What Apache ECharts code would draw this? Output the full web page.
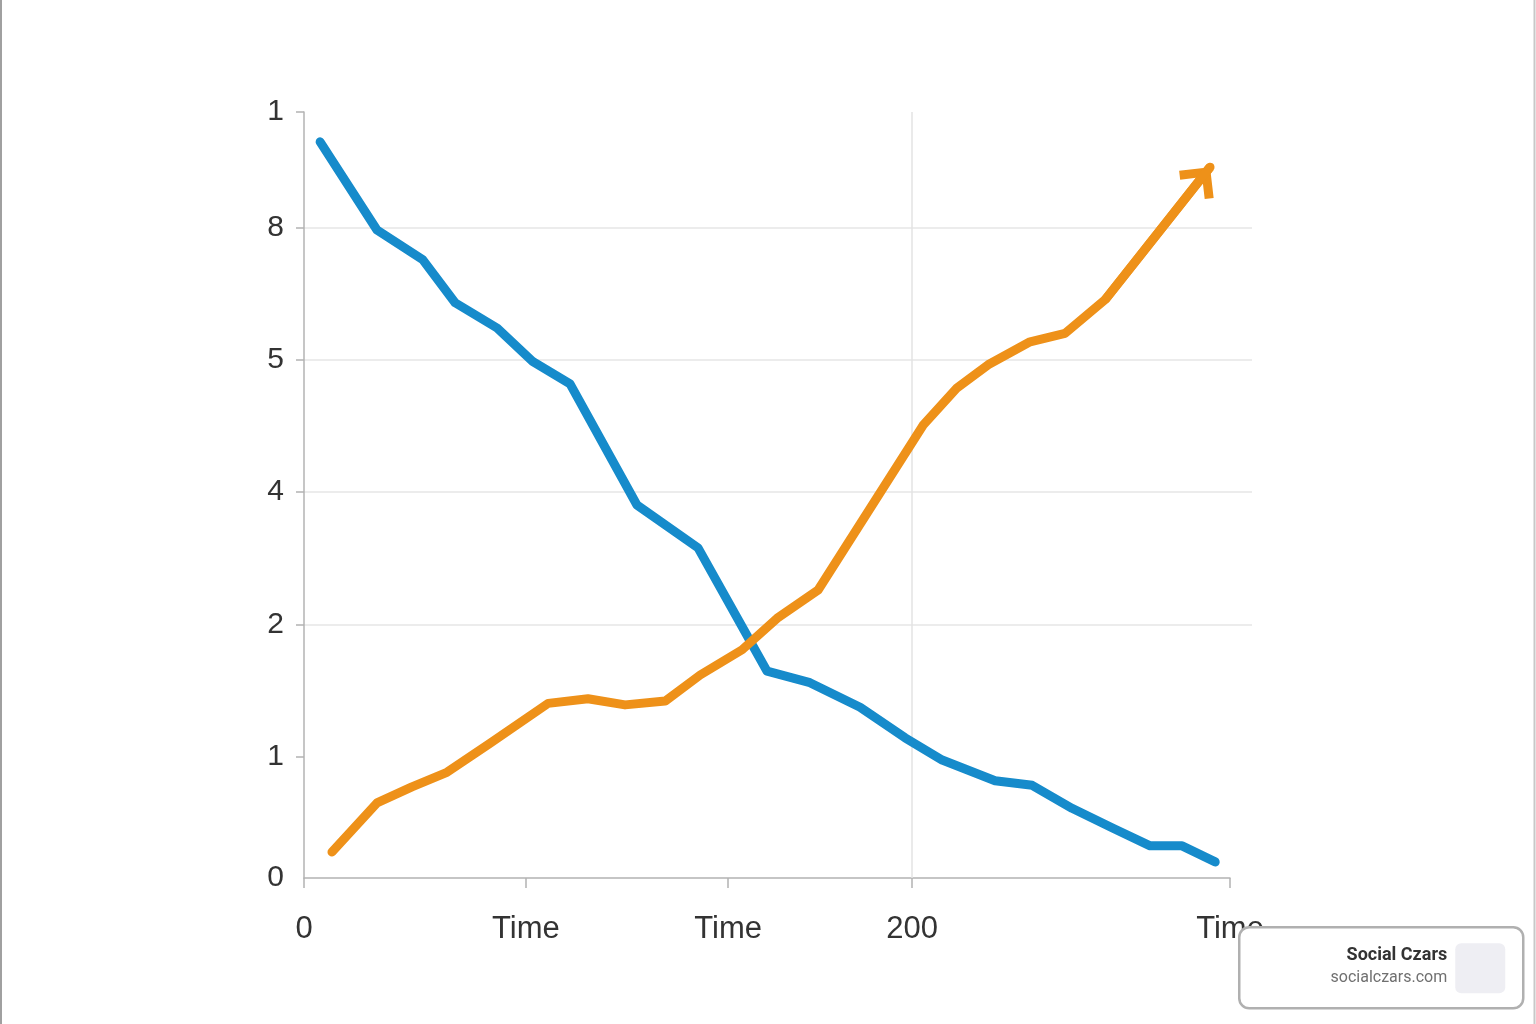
<!DOCTYPE html>
<html>
<head>
<meta charset="utf-8">
<title>chart</title>
<script src="https://cdn.jsdelivr.net/npm/echarts@6/dist/echarts.min.js"></script>
<style>
html, body {margin:0; padding:0; background:#fff;}
#main {width:1536px; height:1024px;}
</style>
</head>
<body>
<div id="main"></div>
<script>
// y轴刻度（位置按图上读取，0~100）
var yTickValues = [0, 15.8, 33.0, 50.4, 67.6, 84.9, 100];
var yTickLabels = ['0', '1', '2', '4', '5', '8', '1'];
// x轴刻度
var xTickValues = [0, 73, 139.5, 200, 304.6];
var xTickLabels = ['0', 'Time', 'Time', '200', 'Time'];
var X_GRID_MAX = 311.8;
var X_AXIS_MAX = 304.6;

// 蓝线
var blueX = [5.3, 24.0, 39.1, 49.7, 63.5, 75.3, 87.5, 109.5, 129.6, 152.3, 166.4, 182.9, 197.7, 209.9, 227.3, 239.5, 252.6, 266.1, 278.3, 288.8, 299.7];
var blueY = [96.1, 84.6, 80.7, 75.1, 71.8, 67.4, 64.5, 48.7, 43.1, 27.0, 25.5, 22.3, 18.3, 15.4, 12.7, 12.1, 9.1, 6.5, 4.2, 4.2, 2.1];
// 橙线
var orangeX = [9.2, 24.0, 35.5, 47.0, 61.2, 80.3, 93.4, 105.6, 118.8, 130.3, 144.1, 155.6, 169.1, 203.6, 214.8, 225.0, 238.8, 250.3, 263.5, 298.0];
var orangeY = [3.4, 9.8, 11.9, 13.8, 17.6, 22.8, 23.4, 22.6, 23.1, 26.5, 29.8, 33.9, 37.6, 59.1, 64.0, 67.0, 70.0, 71.1, 75.5, 92.8];

var BLUE = '#168BCB';
var ORANGE = '#EE9119';
var AXIS_COLOR = '#b3b3b3';
var FONT = '"Liberation Sans", Arial, sans-serif';

// 箭头（尖端在中心，方向朝上）
var ARROW = 'path://M22,0 L22.01,0 Z M22,28.36 L44,50.36 L37.64,56.72 L22,41.06 L6.36,56.72 L0,50.36 Z';

function pairs(xs, ys){
	var out = [];
	for (var i = 0; i < xs.length; i++) {
		out.push([xs[i], ys[i]]);
	}
	return out;
}

function pickLabel(values, labels){
	return function(v){
		for (var i = 0; i < values.length; i++) {
			if (Math.abs(values[i] - v) < 1e-6) return labels[i];
		}
		return '';
	};
}

function show_chart(){
	var myChart = echarts.init(document.getElementById('main'));
	var n = orangeX.length;

	var option = {
		animation: false,
		backgroundColor: '#fff',
		grid: [
			{left: 304, right: 284, top: 112, bottom: 146},
			{left: 304, right: 306, top: 112, bottom: 146}
		],
		xAxis: [
			{gridIndex: 0, type: 'value', min: 0, max: X_GRID_MAX, show: false},
			{
				gridIndex: 1, type: 'value', min: 0, max: X_AXIS_MAX,
				axisLine: {show: true, onZero: false, lineStyle: {color: AXIS_COLOR, width: 1.5}},
				axisTick: {show: true, length: 10, customValues: xTickValues, lineStyle: {color: AXIS_COLOR, width: 1.5}},
				axisLabel: {
					customValues: xTickValues,
					formatter: pickLabel(xTickValues, xTickLabels),
					fontSize: 31, color: '#333', fontFamily: FONT, margin: 36
				},
				splitLine: {show: false}
			}
		],
		yAxis: [
			{
				gridIndex: 0, type: 'value', min: 0, max: 100,
				axisLine: {show: true, lineStyle: {color: AXIS_COLOR, width: 1.5}},
				axisTick: {show: true, length: 8, customValues: yTickValues.slice(1), lineStyle: {color: AXIS_COLOR, width: 1.5}},
				axisLabel: {
					customValues: yTickValues,
					formatter: pickLabel(yTickValues, yTickLabels),
					fontSize: 30, color: '#333', fontFamily: FONT, margin: 20
				},
				splitLine: {show: true, showMinLine: false, showMaxLine: false, lineStyle: {color: '#e6e6e6', width: 1.5}}
			},
			{gridIndex: 1, type: 'value', min: 0, max: 100, show: false}
		],
		series: [
			{
				type: 'line',
				xAxisIndex: 0, yAxisIndex: 0,
				data: pairs(blueX, blueY),
				showSymbol: false, symbol: 'none',
				lineStyle: {color: BLUE, width: 9, cap: 'round', join: 'round'},
				markLine: {
					silent: true, z: 1,
					symbol: ['none', 'none'],
					label: {show: false},
					lineStyle: {color: '#e3e3e3', width: 1.5, type: 'solid'},
					data: [{xAxis: 200}]
				}
			},
			{
				type: 'line',
				xAxisIndex: 0, yAxisIndex: 0,
				data: pairs(orangeX, orangeY),
				showSymbol: false, symbol: 'none',
				lineStyle: {color: ORANGE, width: 9, cap: 'round', join: 'round'},
				markLine: {
					silent: true, z: 3,
					symbol: ['none', 'none'],
					label: {show: false},
					lineStyle: {color: ORANGE, width: 9, type: 'solid'},
					data: [[
						{coord: [orangeX[n - 2], orangeY[n - 2]]},
						{coord: [orangeX[n - 1], orangeY[n - 1]], symbol: ARROW, symbolSize: [44, 56.72]}
					]]
				}
			}
		],
		graphic: [
			{type: 'line', shape: {x1: 1, y1: 0, x2: 1, y2: 1024}, style: {stroke: '#a0a0a0', lineWidth: 2}},
			{type: 'line', shape: {x1: 1534.5, y1: 0, x2: 1534.5, y2: 1024}, style: {stroke: '#c8c8c8', lineWidth: 2}},
			// 右下角水印，盖在坐标轴文字上面
			{
				type: 'group', left: 1238, top: 926, z: 100,
				children: [
					{type: 'rect', z: 100, shape: {x: 0, y: 0, width: 284, height: 81, r: 10},
						style: {fill: '#fff', stroke: '#b0b0b0', lineWidth: 2.5}},
					{type: 'text', z: 101, x: 208, y: 28,
						style: {text: 'Social Czars', font: 'bold 18px Roboto, sans-serif', fill: '#333', align: 'right', verticalAlign: 'middle'}},
					{type: 'text', z: 101, x: 208, y: 51,
						style: {text: 'socialczars.com', font: '16px Roboto, sans-serif', fill: '#707070', align: 'right', verticalAlign: 'middle'}},
					{type: 'rect', z: 101, shape: {x: 216, y: 16, width: 50, height: 50, r: 6},
						style: {fill: '#eeeef3'}}
				]
			}
		]
	};
	myChart.setOption(option);
}

show_chart();
</script>
</body>
</html>
